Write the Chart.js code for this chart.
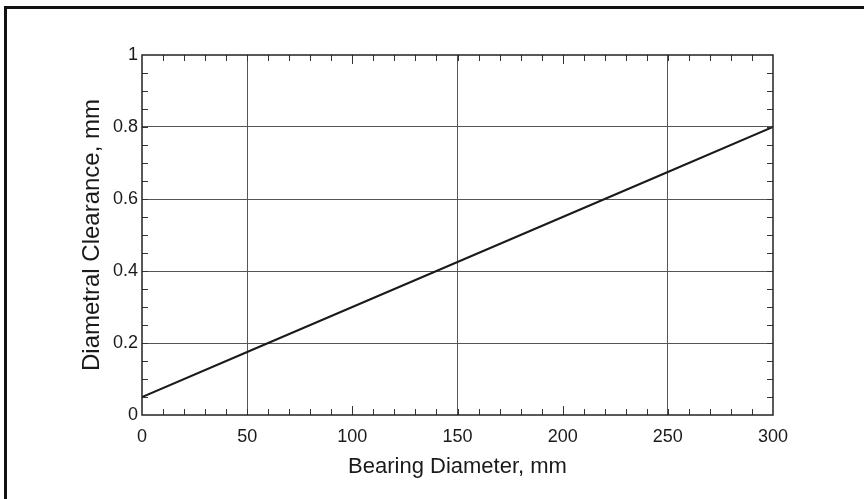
<!DOCTYPE html>
<html>
<head>
<meta charset="utf-8">
<script src="https://cdn.jsdelivr.net/npm/chart.js@4/dist/chart.umd.min.js"></script>
<style>
  html, body { margin: 0; padding: 0; background: #fff; }
  #wrap { position: relative; width: 864px; height: 499px; overflow: hidden; }
  #frame { position: absolute; left: 4px; top: 6px; width: 880px; height: 490px;
           border-left: 3px solid #111; border-top: 3px solid #111; border-bottom: 1px solid #ddd; }
  canvas { position: absolute; left: 0; top: 0; }
</style>
</head>
<body>
<div id="wrap">
  <div id="frame"></div>
  <canvas id="c" width="864" height="499"></canvas>
</div>
<script>
// Data
const bearingDiameter = [0, 50, 100, 150, 200, 250, 300];          // mm
const diametralClearance = [0.05, 0.175, 0.30, 0.425, 0.55, 0.675, 0.80]; // mm
const xTickLabels = ['0', '50', '100', '150', '200', '250', '300'];
const yTickLabels = ['0', '0.2', '0.4', '0.6', '0.8', '1'];
const xGridValues = [50, 150, 250];
const yGridValues = [0.2, 0.4, 0.6, 0.8];
const xMajorTickValues = [100, 200];

const near = (a, b) => Math.abs(a - b) < 1e-6;
const FONT = 'Liberation Sans, Arial, Helvetica, sans-serif';

const innerTicks = {
  id: 'innerTicks',
  afterDatasetsDraw(chart) {
    const { ctx, chartArea: a, scales: { x, y } } = chart;
    ctx.save();
    ctx.strokeStyle = '#333';
    ctx.lineWidth = 1;
    ctx.beginPath();
    // x minor ticks every 10 (bottom and top)
    for (let v = 10; v < 300; v += 10) {
      const px = Math.round(x.getPixelForValue(v)) + 0.5;
      const len = xMajorTickValues.some(m => near(m, v)) ? 9 : 6;
      ctx.moveTo(px, a.bottom); ctx.lineTo(px, a.bottom - len);
      ctx.moveTo(px, a.top); ctx.lineTo(px, a.top + len);
    }
    // y minor ticks every 0.05 (left and right)
    for (let i = 1; i < 20; i++) {
      const v = i * 0.05;
      const py = Math.round(y.getPixelForValue(v)) + 0.5;
      ctx.moveTo(a.left, py); ctx.lineTo(a.left + 6, py);
      ctx.moveTo(a.right, py); ctx.lineTo(a.right - 6, py);
    }
    ctx.stroke();
    // frame of plot area
    ctx.strokeStyle = '#222';
    ctx.lineWidth = 1.5;
    ctx.strokeRect(a.left, a.top, a.right - a.left, a.bottom - a.top);
    ctx.restore();
  }
};

new Chart(document.getElementById('c'), {
  type: 'line',
  data: {
    datasets: [{
      data: bearingDiameter.map((d, i) => ({ x: d, y: diametralClearance[i] })),
      borderColor: '#1a1a1a',
      borderWidth: 2,
      pointRadius: 0,
      tension: 0,
      fill: false
    }]
  },
  options: {
    responsive: false,
    animation: false,
    devicePixelRatio: 1,
    layout: { padding: { left: 0, top: 55, right: 91, bottom: 0 } },
    plugins: { legend: { display: false }, tooltip: { enabled: false } },
    scales: {
      x: {
        type: 'linear', min: 0, max: 300,
        afterFit(s) { s.height = 84; },
        ticks: {
          stepSize: 50, padding: 11, color: '#1a1a1a',
          font: { family: FONT, size: 18 },
          callback: (v) => { const i = bearingDiameter.indexOf(v); return i >= 0 ? xTickLabels[i] : ''; },
          maxRotation: 0, autoSkip: false
        },
        grid: {
          drawTicks: false,
          color: (c) => xGridValues.some(g => near(g, c.tick.value)) ? '#555' : 'rgba(0,0,0,0)',
          lineWidth: 1
        },
        border: { display: false },
        title: {
          display: true, text: 'Bearing Diameter, mm', color: '#1a1a1a',
          font: { family: FONT, size: 22 },
          padding: { top: 0, bottom: 19 }
        }
      },
      y: {
        type: 'linear', min: 0, max: 1,
        afterFit(s) { s.width = 142; },
        ticks: {
          stepSize: 0.2, padding: 4, color: '#1a1a1a',
          font: { family: FONT, size: 18 },
          callback: (v, i) => yTickLabels[i]
        },
        grid: {
          drawTicks: false,
          color: (c) => yGridValues.some(g => near(g, c.tick.value)) ? '#555' : 'rgba(0,0,0,0)',
          lineWidth: 1
        },
        border: { display: false },
        title: {
          display: true, text: 'Diametral Clearance, mm', color: '#1a1a1a',
          font: { family: FONT, size: 24 },
          padding: { top: 78, bottom: 0 }
        }
      }
    }
  },
  plugins: [innerTicks]
});
</script>
</body>
</html>
